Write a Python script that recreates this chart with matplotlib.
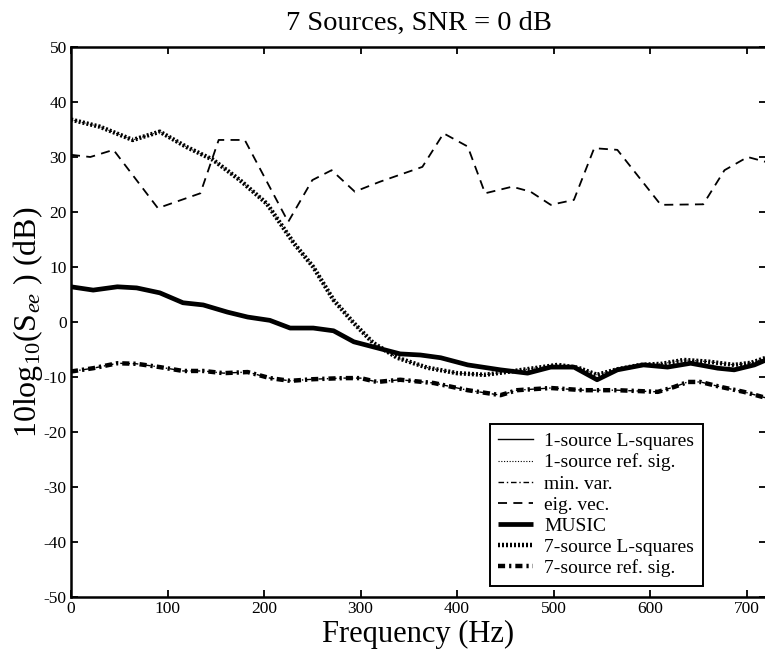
import matplotlib
matplotlib.use("Agg")
import matplotlib.pyplot as plt

plt.rcParams['font.family'] = ['Liberation Serif', 'DejaVu Serif']
plt.rcParams['mathtext.fontset'] = 'custom'
plt.rcParams['mathtext.rm'] = 'Liberation Serif'
plt.rcParams['mathtext.it'] = 'Liberation Serif:italic'
plt.rcParams['axes.unicode_minus'] = False

# ---- data ----
eig_f = [0, 20, 44, 90, 134, 153, 180, 225, 250, 270, 294, 320, 364, 386, 411, 429,
         457, 476, 497, 521, 542, 566, 611, 655, 677, 701, 720]
eig_db = [30.4, 30.0, 31.3, 20.7, 23.4, 33.1, 33.1, 18.2, 25.8, 27.6, 23.7, 25.5, 28.2,
          34.3, 31.9, 23.4, 24.6, 23.7, 21.3, 22.2, 31.6, 31.3, 21.3, 21.4, 27.6, 30.0, 29.1]

ls7_f = [0, 30, 64, 92, 120, 147, 175, 203, 231, 251, 272, 293, 313, 338, 369, 400,
         428, 455, 480, 504, 525, 545, 566, 590, 612, 635, 660, 687, 705, 720]
ls7_db = [36.8, 35.5, 33.1, 34.6, 31.8, 29.5, 25.8, 21.5, 14.3, 10.0, 4.0, -0.2, -3.8,
          -6.5, -8.3, -9.3, -9.6, -9.0, -8.4, -7.8, -8.3, -9.6, -8.6, -7.8, -7.6, -6.9,
          -7.2, -7.8, -7.4, -6.5]

music_f = [0, 23, 48, 68, 92, 116, 137, 162, 183, 206, 227, 251, 272, 293, 317, 341,
           362, 383, 411, 445, 473, 497, 521, 545, 566, 593, 618, 642, 670, 687, 708, 720]
music_db = [6.4, 5.8, 6.4, 6.2, 5.3, 3.5, 3.1, 1.8, 0.9, 0.3, -1.1, -1.1, -1.6, -3.6,
            -4.7, -5.8, -6.0, -6.5, -7.8, -8.7, -9.3, -8.2, -8.2, -10.5, -8.7, -7.8,
            -8.2, -7.5, -8.4, -8.7, -7.8, -6.9]

ref7_f = [0, 23, 48, 68, 92, 116, 137, 158, 183, 206, 227, 251, 282, 300, 317, 341,
          376, 411, 445, 462, 497, 531, 566, 608, 625, 639, 652, 673, 697, 720]
ref7_db = [-9.0, -8.4, -7.5, -7.6, -8.2, -8.9, -8.9, -9.3, -9.1, -10.2, -10.7, -10.4,
           -10.2, -10.2, -10.9, -10.5, -11.1, -12.4, -13.3, -12.4, -12.0, -12.4, -12.4,
           -12.7, -11.8, -10.9, -10.9, -11.8, -12.7, -13.8]

# thin curves lie beneath the thick ones in the picture
lsq1_db = [6.4, 5.8, 6.4, 6.2, 5.3, 3.5, 3.1, 1.8, 0.9, 0.3, -1.1, -1.1, -1.6, -3.6,
           -4.7, -5.8, -6.0, -6.5, -7.8, -8.7, -9.3, -8.2, -8.2, -10.5, -8.7, -7.8,
           -8.2, -7.5, -8.4, -8.7, -7.8, -6.9]
ref1_db = [36.8, 35.5, 33.1, 34.6, 31.8, 29.5, 25.8, 21.5, 14.3, 10.0, 4.0, -0.2, -3.8,
           -6.5, -8.3, -9.3, -9.6, -9.0, -8.4, -7.8, -8.3, -9.6, -8.6, -7.8, -7.6, -6.9,
           -7.2, -7.8, -7.4, -6.5]
minvar_db = [-9.0, -8.4, -7.5, -7.6, -8.2, -8.9, -8.9, -9.3, -9.1, -10.2, -10.7, -10.4,
             -10.2, -10.2, -10.9, -10.5, -11.1, -12.4, -13.3, -12.4, -12.0, -12.4, -12.4,
             -12.7, -11.8, -10.9, -10.9, -11.8, -12.7, -13.8]

labels = ['1-source L-squares', '1-source ref. sig.', 'min. var.', 'eig. vec.',
          'MUSIC', '7-source L-squares', '7-source ref. sig.']
x_ticks = [0, 100, 200, 300, 400, 500, 600, 700]
y_ticks = [-50, -40, -30, -20, -10, 0, 10, 20, 30, 40, 50]

# ---- figure ----
W, H = 765, 660
fig = plt.figure(figsize=(W / 100, H / 100), dpi=100)
ax = fig.add_axes([71 / W, 63 / H, 695 / W, 550 / H])

ax.plot(music_f, lsq1_db, color='black', lw=1.0, ls='-', label=labels[0])
ax.plot(ls7_f, ref1_db, color='black', lw=0.8, ls=(0, (1, 1.5)), label=labels[1])
ax.plot(ref7_f, minvar_db, color='black', lw=1.0, ls=(0, (4, 2, 1, 2)), label=labels[2])
ax.plot(eig_f, eig_db, color='black', lw=1.3, ls=(0, (5, 3.5)), label=labels[3])
ax.plot(music_f, music_db, color='black', lw=3.4, ls='-', solid_capstyle='butt',
        label=labels[4])
ax.plot(ls7_f, ls7_db, color='black', lw=3.2, ls=(0, (0.45, 0.45)),
        dash_capstyle='butt', label=labels[5])
ax.plot(ref7_f, ref7_db, color='black', lw=3.2, ls=(0, (1.6, 0.9, 0.5, 0.9)),
        dash_capstyle='butt', label=labels[6])

ax.set_xlim(0, 720)
ax.set_ylim(-50, 50)
ax.set_xticks(x_ticks)
ax.set_yticks(y_ticks)
ax.tick_params(direction='in', length=5, width=1.3, top=True, right=True,
               labelsize=12.5, pad=3, colors='black')
for s in ax.spines.values():
    s.set_linewidth(1.8)
    s.set_color('black')

ax.set_title('7 Sources, SNR = 0 dB', fontsize=20.5, pad=12)
ax.set_xlabel('Frequency (Hz)', fontsize=22, labelpad=2)
ax.set_ylabel(r'10log$_{10}$(S$_{ee}$ ) (dB)', fontsize=23, labelpad=-1)

leg = ax.legend(loc='lower right', bbox_to_anchor=(0.909, 0.02), borderaxespad=0,
                fontsize=14, frameon=True, fancybox=False, framealpha=1,
                edgecolor='black', handlelength=1.8, handletextpad=0.55,
                labelspacing=0.18, borderpad=0.45)
leg.get_frame().set_linewidth(1.4)

fig.savefig('out.png', dpi=100)
